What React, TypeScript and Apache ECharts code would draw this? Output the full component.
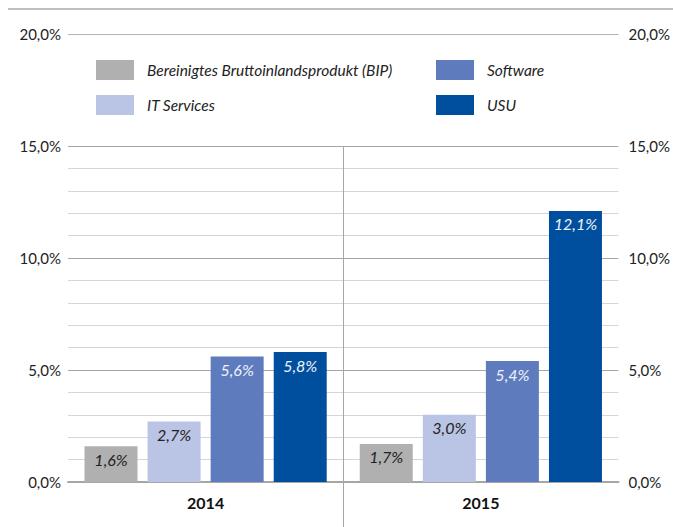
import React, { useEffect, useRef } from "react";
import * as echarts from "echarts";

const categories = ["2014", "2015"];
const seriesNames = ["Bereinigtes Bruttoinlandsprodukt (BIP)", "IT Services", "Software", "USU"];
const bipValues = [1.6, 1.7];
const itServicesValues = [2.7, 3.0];
const softwareValues = [5.6, 5.4];
const usuValues = [5.8, 12.1];
const yTickLabels = [0, 5, 10, 15, 20];
const colors = ["#b0b0b0", "#bac4e4", "#5e7cbd", "#004f9e"];
const labelColors = ["#222222", "#222222", "#eef2fa", "#eef2fa"];

const FONT = "Lato";

const fmt = (v: number) => v.toFixed(1).replace(".", ",") + "%";

export default function App() {
  const ref = useRef<HTMLDivElement>(null);
  useEffect(() => {
    if (!ref.current) return;
    const chart = echarts.init(ref.current, null, { renderer: "svg" });
    const values = [bipValues, itServicesValues, softwareValues, usuValues];
    const splitColors: string[] = [];
    for (let i = 0; i <= 20; i++) {
      if (i === 20) splitColors.push("#b4b4b4");
      else if (i > 15) splitColors.push("rgba(0,0,0,0)");
      else if (i % 5 === 0) splitColors.push("#a6a6a6");
      else splitColors.push("#d6d6d6");
    }
    const axisLabel = {
      fontFamily: FONT,
      fontSize: 15,
      color: "#222",
      formatter: (v: number) => (yTickLabels.indexOf(v) >= 0 ? fmt(v) : ""),
    };
    const legendBase = {
      orient: "vertical",
      top: 60,
      padding: 0,
      itemWidth: 38,
      itemHeight: 20,
      itemGap: 15,
      icon: "rect",
      textStyle: { fontFamily: FONT, fontSize: 15.5, fontStyle: "italic", color: "#222", padding: [0, 0, 0, 8] },
    };
    chart.setOption({
      animation: false,
      grid: { left: 68, right: 53, top: 34, bottom: 45 },
      legend: [
        { ...legendBase, data: [seriesNames[0], seriesNames[1]], left: 96 },
        { ...legendBase, data: [seriesNames[2], seriesNames[3]], left: 436 },
      ],
      xAxis: {
        type: "category",
        data: categories,
        axisLine: { show: true, lineStyle: { color: "#a6a6a6", width: 2 } },
        axisTick: { show: false },
        axisLabel: { fontFamily: FONT, fontSize: 16, fontWeight: "bold", color: "#111", margin: 12 },
        splitLine: { show: false },
      },
      yAxis: [
        {
          type: "value",
          min: 0,
          max: 20,
          interval: 1,
          position: "left",
          axisLine: { show: false },
          axisTick: { show: false },
          axisLabel: { ...axisLabel, margin: 7 },
          splitLine: { show: true, lineStyle: { color: splitColors, width: 1 } },
        },
        {
          type: "value",
          min: 0,
          max: 20,
          interval: 1,
          position: "right",
          axisLine: { show: false },
          axisTick: { show: false },
          axisLabel: { ...axisLabel, margin: 10 },
          splitLine: { show: false },
        },
      ],
      series: seriesNames.map((name, i) => ({
        name,
        type: "bar",
        data: values[i],
        barWidth: 53,
        barGap: "19%",
        itemStyle: { color: colors[i] },
        label: {
          show: true,
          position: "insideTop",
          distance: 5,
          formatter: (p: any) => fmt(p.value),
          fontFamily: FONT,
          fontSize: 16,
          fontStyle: "italic",
          color: labelColors[i],
        },
      })),
    });
    const x0 = chart.convertToPixel({ xAxisIndex: 0 }, categories[0]) as number;
    const x1 = chart.convertToPixel({ xAxisIndex: 0 }, categories[1]) as number;
    const yTop = chart.convertToPixel({ yAxisIndex: 0 }, 15) as number;
    const xs = Math.round((x0 + x1) / 2) + 0.5;
    chart.setOption({
      graphic: [
        {
          type: "line",
          shape: { x1: xs, y1: yTop, x2: xs, y2: 527 },
          style: { stroke: "#a6a6a6", lineWidth: 1 },
          z: 10,
        },
        {
          type: "line",
          shape: { x1: 8, y1: 9, x2: 673, y2: 9 },
          style: { stroke: "#c0c0c0", lineWidth: 2 },
        },
      ],
    });
    return () => chart.dispose();
  }, []);
  return (
    <div
      ref={ref}
      style={{ position: "fixed", left: 0, top: 0, width: 673, height: 527, background: "#fff" }}
    />
  );
}
